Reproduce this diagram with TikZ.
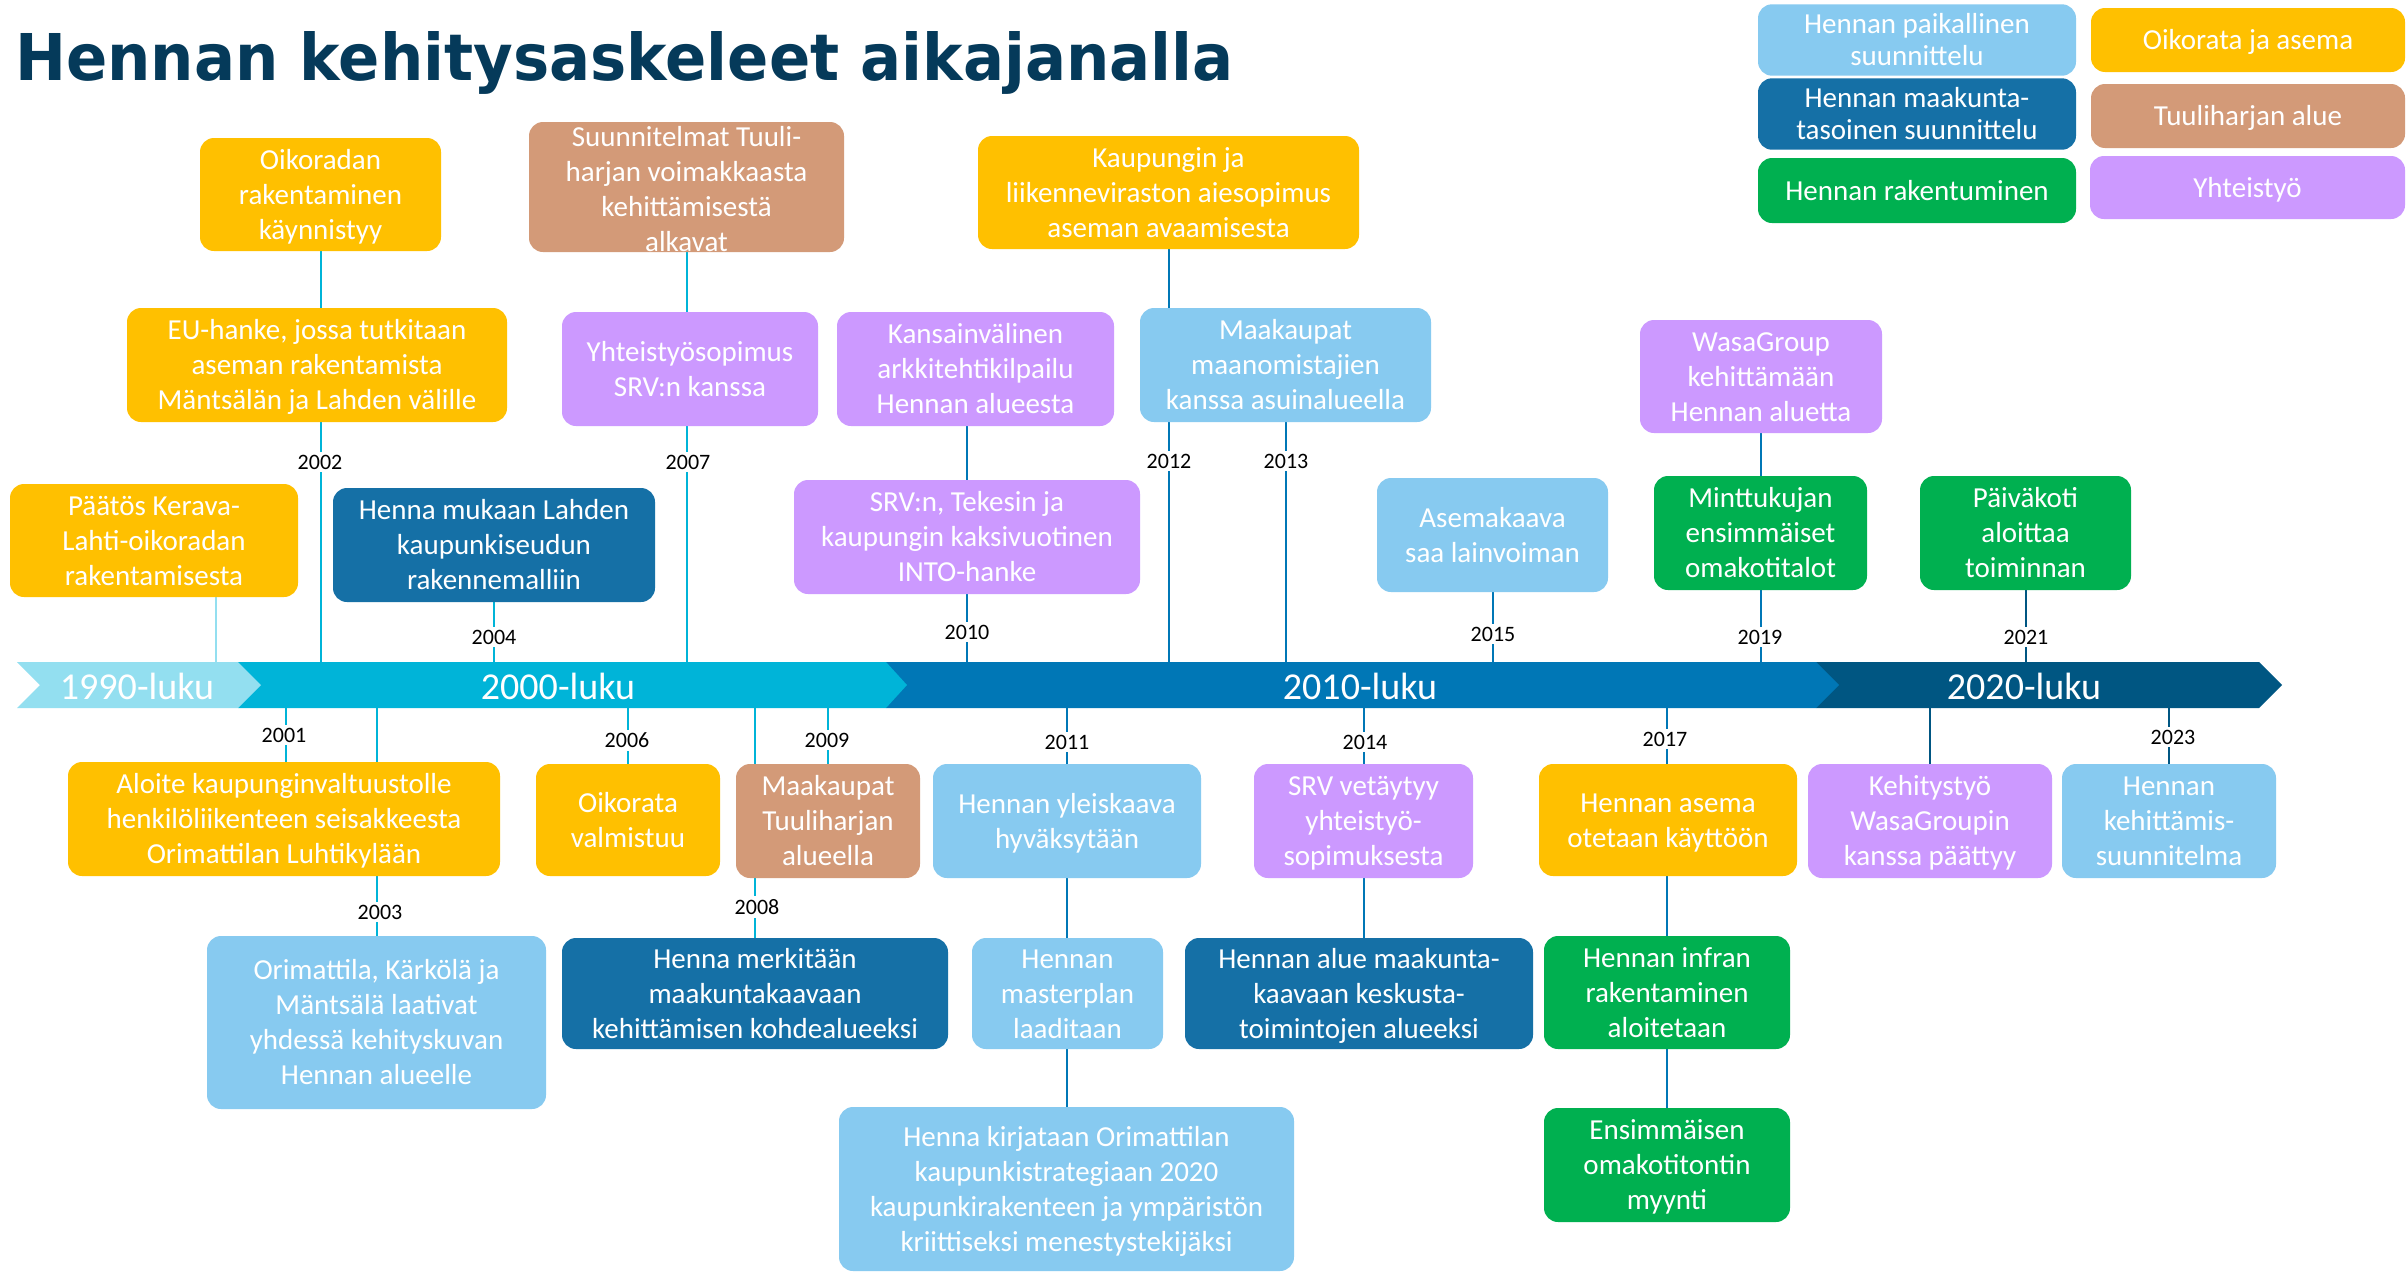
\documentclass[tikz,border=0pt]{standalone}
\usepackage{fontspec}
\setmainfont{Carlito}
\newfontfamily\titlefont{DejaVu Sans}
\usetikzlibrary{backgrounds}
\definecolor{cOr}{HTML}{FFC000}
\definecolor{cBr}{HTML}{D39A78}
\definecolor{cPu}{HTML}{CC99FF}
\definecolor{cLb}{HTML}{87CAF0}
\definecolor{cDb}{HTML}{1570A6}
\definecolor{cGr}{HTML}{00B050}
\definecolor{cNine}{HTML}{93DFF0}
\definecolor{cZero}{HTML}{00B4D8}
\definecolor{cTen}{HTML}{0077B6}
\definecolor{cTwenty}{HTML}{005682}
\definecolor{cTitle}{HTML}{053A5A}
\newcommand\tS{\rule{0pt}{27.6pt}}
\newcommand\bS{\rule[-7.8pt]{0pt}{7.8pt}}
\begin{document}
\begin{tikzpicture}[x=1pt,y=-1pt,
  txt/.style={text=white, align=center, font=\fontsize{29}{35}\selectfont},
  bx/.style={txt, rounded corners=14pt, inner sep=2pt},
  bxt/.style={txt, inner sep=0pt},
  wh/.style 2 args={minimum width=#1pt, minimum height=#2pt},
  yr/.style={fill=white, inner sep=3pt, text=black, font=\fontsize{22}{24}\selectfont},
  dec/.style={text=white, font=\fontsize{38}{40}\selectfont, inner sep=0pt},
  lnNine/.style={draw=cNine, line width=2pt},
  lnZero/.style={draw=cZero, line width=2pt},
  lnTen/.style={draw=cTen, line width=2pt},
  lnTwenty/.style={draw=cTwenty, line width=2pt}]
\useasboundingbox (0,0) rectangle (2407,1272);
\begin{scope}[on background layer]
  \fill[white] (0,0) rectangle (2407,1272);
\end{scope}

% title
\node[anchor=base west, inner sep=0pt, text=cTitle] (title) at (15,80)
  {\resizebox{1218pt}{49pt}{\titlefont\bfseries Hennan kehitysaskeleet aikajanalla}};

% timeline bar
\coordinate (bt) at (0,662);
\coordinate (bb) at (0,708);
\fill[cTwenty] (1816,662) -- (2259,662) -- (2282,685) -- (2259,708) -- (1816,708) -- cycle;
\fill[cTen] (886,662) -- (1816,662) -- (1839,685) -- (1816,708) -- (886,708) -- cycle;
\fill[cZero] (238,662) -- (886,662) -- (907,685) -- (886,708) -- (238,708) -- cycle;
\fill[cNine] (17,662) -- (238,662) -- (261,685) -- (238,708) -- (17,708) -- (40,685) -- cycle;
\node[dec] (d90) at (137,686) {1990-luku};
\node[dec] (d00) at (558,686) {2000-luku};
\node[dec] (d10) at (1360,686) {2010-luku};
\node[dec] (d20) at (2024,686) {2020-luku};

% legend
\node[bx, fill=cLb, wh={318}{64}] (L1) at (1917,40) {\tS Hennan paikallinen\\[-3pt]suunnittelu\bS};
\node[bx, fill=cOr, wh={314}{64}] (L2) at (2248,40) {\tS Oikorata ja asema\bS};
\node[bx, fill=cDb, wh={318}{64}] (L3) at (1917,114) {\tS Hennan maakunta-\\[-3pt]tasoinen suunnittelu\bS};
\node[bx, fill=cBr, wh={314}{64}] (L4) at (2248,116) {\tS Tuuliharjan alue\bS};
\node[bx, fill=cGr, wh={318}{65}] (L5) at (1917,190.5) {\tS Hennan rakentuminen\bS};
\node[bx, fill=cPu, wh={315}{63}] (L6) at (2247.5,187.5) {\tS Yhteistyö\bS};

% boxes above the timeline
\node[bx, fill=cOr, wh={241}{113}] (oik1) at (320.5,194.5) {\tS Oikoradan\\rakentaminen\\käynnistyy\bS};
\node[bx, fill=cOr, wh={380}{114}] (eu) at (317,365) {\tS EU-hanke, jossa tutkitaan\\aseman rakentamista\\Mäntsälän ja Lahden välille\bS};
\node[bx, fill=cBr, wh={315}{130}] (suun) at (686.5,187) {};
\node[bxt] (suunt) at (686.5,189) {\tS Suunnitelmat Tuuli-\\harjan voimakkaasta\\kehittämisestä\\alkavat\bS};
\node[bx, fill=cPu, wh={256}{114}] (yht) at (690,369) {\tS Yhteistyösopimus\\SRV:n kanssa\bS};
\node[bx, fill=cPu, wh={277}{114}] (kans) at (975.5,369) {\tS Kansainvälinen\\arkkitehtikilpailu\\Hennan alueesta\bS};
\node[bx, fill=cPu, wh={346}{114}] (srvint) at (967,537) {\tS SRV:n, Tekesin ja\\kaupungin kaksivuotinen\\INTO-hanke\bS};
\node[bx, fill=cOr, wh={381}{113}] (kaup) at (1168.5,192.5) {\tS Kaupungin ja\\liikenneviraston aiesopimus\\aseman avaamisesta\bS};
\node[bx, fill=cLb, wh={291}{114}] (maak) at (1285.5,365) {\tS Maakaupat\\maanomistajien\\kanssa asuinalueella\bS};
\node[bx, fill=cLb, wh={231}{114}] (asema) at (1492.5,535) {\tS Asemakaava\\saa lainvoiman\bS};
\node[bx, fill=cPu, wh={242}{113}] (wasa) at (1761,376.5) {\tS WasaGroup\\kehittämään\\Hennan aluetta\bS};
\node[bx, fill=cGr, wh={213}{114}] (mint) at (1760.5,533) {\tS Minttukujan\\ensimmäiset\\omakotitalot\bS};
\node[bx, fill=cGr, wh={211}{114}] (paiv) at (2025.5,533) {\tS Päiväkoti\\aloittaa\\toiminnan\bS};
\node[bx, fill=cOr, wh={288}{113}] (paat) at (154,540.5) {\tS Päätös Kerava-\\Lahti-oikoradan\\rakentamisesta\bS};
\node[bx, fill=cDb, wh={322}{114}] (henmuk) at (494,545) {\tS Henna mukaan Lahden\\kaupunkiseudun\\rakennemalliin\bS};

% boxes below the timeline
\node[bx, fill=cOr, wh={432}{114}] (aloite) at (284,819) {\tS Aloite kaupunginvaltuustolle\\henkilöliikenteen seisakkeesta\\Orimattilan Luhtikylään\bS};
\node[bx, fill=cLb, wh={339}{173}] (orim) at (376.5,1022.5) {\tS Orimattila, Kärkölä ja\\Mäntsälä laativat\\yhdessä kehityskuvan\\Hennan alueelle\bS};
\node[bx, fill=cOr, wh={184}{112}] (oikval) at (628,820) {\tS Oikorata\\valmistuu\bS};
\node[bx, fill=cBr, wh={184}{114}] (maaktuul) at (828,821) {\tS Maakaupat\\Tuuliharjan\\alueella\bS};
\node[bx, fill=cDb, wh={386}{111}] (hmerk) at (755,993.5) {\tS Henna merkitään\\maakuntakaavaan\\kehittämisen kohdealueeksi\bS};
\node[bx, fill=cLb, wh={268}{114}] (yleis) at (1067,821) {\tS Hennan yleiskaava\\hyväksytään\bS};
\node[bx, fill=cLb, wh={191}{111}] (master) at (1067.5,993.5) {\tS Hennan\\masterplan\\laaditaan\bS};
\node[bx, fill=cLb, wh={455}{164}] (kirj) at (1066.5,1189) {\tS Henna kirjataan Orimattilan\\kaupunkistrategiaan 2020\\kaupunkirakenteen ja ympäristön\\kriittiseksi menestystekijäksi\bS};
\node[bx, fill=cPu, wh={219}{114}] (srvvet) at (1363.5,821) {\tS SRV vetäytyy\\yhteistyö-\\sopimuksesta\bS};
\node[bx, fill=cDb, wh={348}{111}] (halue) at (1359,993.5) {\tS Hennan alue maakunta-\\kaavaan keskusta-\\toimintojen alueeksi\bS};
\node[bx, fill=cOr, wh={258}{112}] (hasema) at (1668,820) {\tS Hennan asema\\otetaan käyttöön\bS};
\node[bx, fill=cGr, wh={246}{113}] (infra) at (1667,992.5) {\tS Hennan infran\\rakentaminen\\aloitetaan\bS};
\node[bx, fill=cGr, wh={246}{114}] (ensim) at (1667,1165) {\tS Ensimmäisen\\omakotitontin\\myynti\bS};
\node[bx, fill=cPu, wh={244}{114}] (kehit) at (1930,821) {\tS Kehitystyö\\WasaGroupin\\kanssa päättyy\bS};
\node[bx, fill=cLb, wh={214}{114}] (hkeh) at (2169,821) {\tS Hennan\\kehittämis-\\suunnitelma\bS};

% connectors (behind the boxes)
\coordinate (x90) at (216,0);
\begin{scope}[on background layer]
  \draw[lnNine] (paat.south -| x90) -- (x90 |- bt);
  \draw[lnZero] (oik1.south) -- (oik1.south |- bt);
  \draw[lnZero] (suun.south) -- (suun.south |- bt);
  \draw[lnZero] (henmuk.south) -- (henmuk.south |- bt);
  \draw[lnTen] (kans.south -| srvint.center) -- (srvint.center |- bt);
  \draw[lnTen] (kaup.south) -- (kaup.south |- bt);
  \draw[lnTen] (maak.south) -- (maak.south |- bt);
  \draw[lnTen] (asema.south) -- (asema.south |- bt);
  \draw[lnTen] (wasa.south) -- (wasa.south |- bt);
  \draw[lnTwenty] (paiv.south) -- (paiv.south |- bt);
  \draw[lnZero] (aloite.north -| 286,0) -- (286,708);
  \draw[lnZero] (orim.north) -- (orim.north |- bb);
  \draw[lnZero] (oikval.north) -- (oikval.north |- bb);
  \draw[lnZero] (hmerk.north) -- (hmerk.north |- bb);
  \draw[lnZero] (maaktuul.north) -- (maaktuul.north |- bb);
  \draw[lnTen] (kirj.north) -- (kirj.north |- bb);
  \draw[lnTen] (halue.north -| srvvet.center) -- (srvvet.center |- bb);
  \draw[lnTen] (ensim.north) -- (ensim.north |- bb);
  \draw[lnTwenty] (kehit.north) -- (kehit.north |- bb);
  \draw[lnTwenty] (hkeh.north) -- (hkeh.north |- bb);
\end{scope}

% year labels
\node[yr] (y2002) at (320,462) {2002};
\node[yr] (y2007) at (688,462) {2007};
\node[yr] (y2012) at (1169,461) {2012};
\node[yr] (y2013) at (1286,461) {2013};
\node[yr] (y2004) at (494,637) {2004};
\node[yr] (y2010) at (967,632) {2010};
\node[yr] (y2015) at (1493,634) {2015};
\node[yr] (y2019) at (1760,637) {2019};
\node[yr] (y2021) at (2026,637) {2021};
\node[yr] (y2001) at (284,735) {2001};
\node[yr] (y2006) at (627,740) {2006};
\node[yr] (y2009) at (827,740) {2009};
\node[yr] (y2011) at (1067,742) {2011};
\node[yr] (y2014) at (1365,742) {2014};
\node[yr] (y2017) at (1665,739) {2017};
\node[yr] (y2023) at (2173,737) {2023};
\node[yr] (y2003) at (380,912) {2003};
\node[yr] (y2008) at (757,907) {2008};
\end{tikzpicture}
\end{document}
